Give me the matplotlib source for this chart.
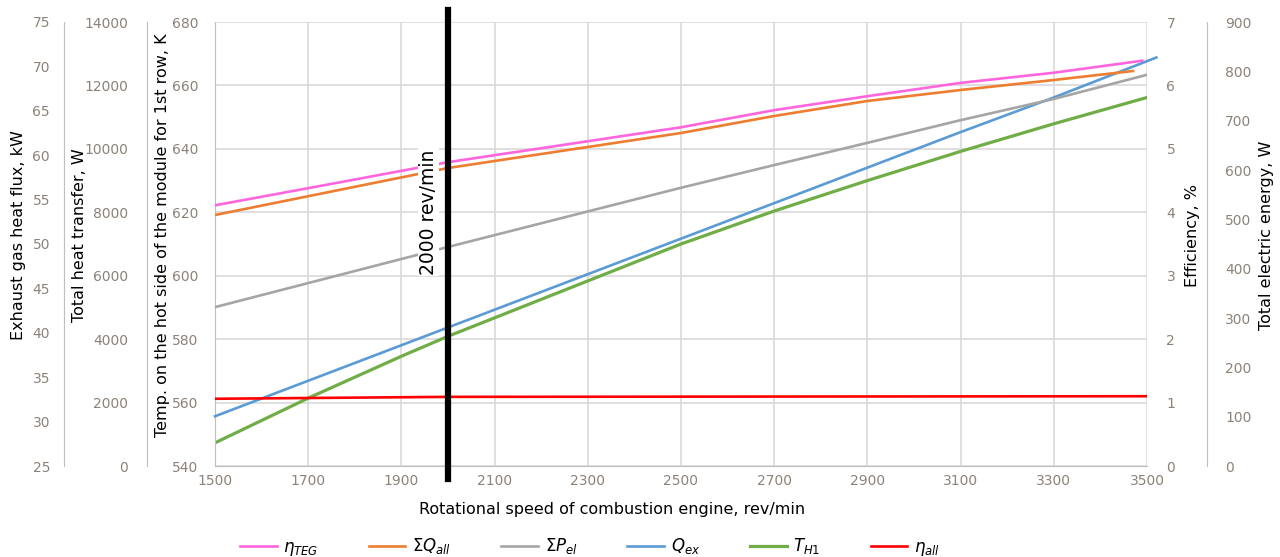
import numpy as np
import matplotlib.pyplot as plt

# data
rpm = [1500, 1700, 1900, 2000, 2500, 2700, 2900, 3100, 3300, 3500]

# efficiency of TEG, %
rpm_teg = [1500, 1700, 2000, 2500, 2700, 2900, 3100, 3300, 3490]
eta_teg = [4.11, 4.38, 4.79, 5.34, 5.61, 5.83, 6.04, 6.20, 6.39]

# total heat transfer, W
rpm_q = [1500, 2000, 2500, 2700, 2900, 3100, 3300, 3470]
q_all = [7914, 9396, 10500, 11036, 11509, 11856, 12171, 12455]

# total electric energy, W
rpm_p = [1500, 2000, 2500, 2700, 2900, 3100, 3300, 3500]
p_el = [322, 444, 564, 610, 655, 701, 744, 793]

# exhaust gas heat flux, kW
rpm_ex = [1500, 1700, 1900, 2000, 2500, 2700, 2900, 3100, 3300, 3520]
q_ex = [30.6, 34.6, 38.6, 40.6, 50.6, 54.6, 58.6, 62.6, 66.5, 71.0]

# temperature hot side, K
t_h1 = [547.3, 561.4, 574.6, 580.9, 610.0, 620.4, 630.0, 639.2, 647.9, 656.2]

# overall efficiency, %
rpm_all = [1500, 2000, 3500]
eta_all = [1.06, 1.09, 1.10]

tick_col = '#8c8279'
grid_col = '#d9d9d9'
spine_col = '#bfbfbf'

fig = plt.figure(figsize=(12.8, 5.57), dpi=100)
ax = fig.add_axes([215/1280, 1-466/557, 932/1280, 444/557])

ax_ex = ax.twinx()
ax_q = ax.twinx()
ax_eff = ax.twinx()
ax_el = ax.twinx()

for a in [ax, ax_ex, ax_q, ax_eff, ax_el]:
  for s in a.spines.values():
    s.set_visible(False)
    s.set_color(spine_col)
  a.tick_params(length=0, colors=tick_col, labelsize=10)

# host axis: temperature
ax.set_xlim(1500, 3500)
ax.set_ylim(540, 680)
ax.set_xticks(np.arange(1500, 3501, 200))
ax.set_yticks(np.arange(540, 681, 20))
ax.grid(True, color=grid_col, lw=1.2)
ax.set_axisbelow(True)
ax.spines['left'].set_visible(True)
ax.spines['bottom'].set_visible(True)
ax.tick_params(axis='y', pad=12)
ax.tick_params(axis='x', pad=6)
ax.set_ylabel('Temp. on the hot side of the module for 1st row, K', fontsize=11.5)
ax.yaxis.set_label_coords((163-215)/932, 0.52)
ax.yaxis.label.set_va('center')
ax.set_xlabel('Rotational speed of combustion engine, rev/min', fontsize=11.5)
ax.xaxis.set_label_coords((612-215)/932, -0.097)
ax.xaxis.label.set_va('center')

# left offset axes
def left_axis(a, pos, pad, label, lx):
  a.yaxis.set_label_position('left')
  a.yaxis.set_ticks_position('left')
  a.spines['left'].set_position(('axes', pos))
  a.spines['left'].set_visible(True)
  a.tick_params(axis='y', pad=pad)
  a.set_ylabel(label, fontsize=11.5)
  a.yaxis.set_label_coords(lx, 0.52)
  a.yaxis.label.set_va('center')

ax_ex.set_ylim(25, 75)
ax_ex.set_yticks(np.arange(25, 76, 5))
left_axis(ax_ex, (64-215)/932, 10, 'Exhaust gas heat flux, kW', (19-215)/932)

ax_q.set_ylim(0, 14000)
ax_q.set_yticks(np.arange(0, 14001, 2000))
left_axis(ax_q, (147-215)/932, 13.5, 'Total heat transfer, W', (79-215)/932)

# right axes
ax_eff.set_ylim(0, 7)
ax_eff.set_yticks(np.arange(0, 8, 1))
ax_eff.tick_params(axis='y', pad=14)
ax_eff.set_ylabel('Efficiency, %', fontsize=11.5)
ax_eff.yaxis.set_label_coords((1192-215)/932, 0.52)
ax_eff.yaxis.label.set_va('center')

ax_el.set_ylim(0, 900)
ax_el.set_yticks(np.arange(0, 901, 100))
ax_el.spines['right'].set_position(('axes', (1207-215)/932))
ax_el.spines['right'].set_visible(True)
ax_el.tick_params(axis='y', pad=13)
ax_el.set_ylabel('Total electric energy, W', fontsize=11.5)
ax_el.yaxis.set_label_coords((1267-215)/932, 0.52)
ax_el.yaxis.label.set_va('center')

lw = 1.9
l1, = ax_eff.plot(rpm_teg, eta_teg, color='#ff66dd', lw=lw, label=r'$\eta_{TEG}$')
l2, = ax_q.plot(rpm_q, q_all, color='#ed7d31', lw=lw, label=r'$\Sigma Q_{all}$')
l3, = ax_el.plot(rpm_p, p_el, color='#a5a5a5', lw=lw, label=r'$\Sigma P_{el}$')
l4, = ax_ex.plot(rpm_ex, q_ex, color='#5b9bd5', lw=lw, label=r'$Q_{ex}$', clip_on=False)
l5, = ax.plot(rpm, t_h1, color='#70ad47', lw=2.3, label=r'$T_{H1}$')
l6, = ax_eff.plot(rpm_all, eta_all, color='#ff0000', lw=lw, label=r'$\eta_{all}$')

# marker for 2000 rev/min
ax_el.axvline(2000, ymin=-0.03, ymax=1.027, color='black', lw=4.5, clip_on=False, zorder=10)
ax_el.text(1958, 0.572, '2000 rev/min', rotation=90, fontsize=13.5, ha='center', va='center',
           transform=ax_el.get_xaxis_transform(), zorder=11,
           bbox=dict(facecolor='white', edgecolor='none', pad=1))

fig.legend(handles=[l1, l2, l3, l4, l5, l6], loc='center', ncol=6, frameon=False,
           bbox_to_anchor=(590/1280, 1-547/557), fontsize=12, handlelength=2.2,
           columnspacing=3.0, handletextpad=0.4)

fig.savefig('out.png', dpi=100)
